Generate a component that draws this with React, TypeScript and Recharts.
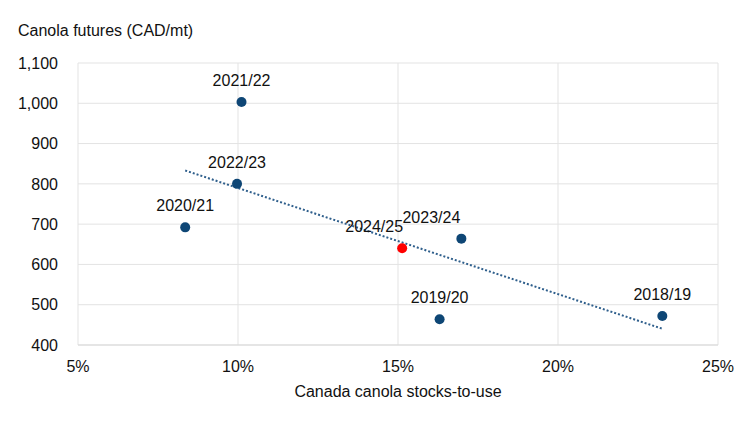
import { ScatterChart, Scatter, XAxis, YAxis, CartesianGrid, ReferenceLine } from "recharts";

const seasons = ["2018/19", "2019/20", "2020/21", "2021/22", "2022/23", "2023/24", "2024/25"];
const stocksToUse = [23.26, 16.3, 8.35, 10.11, 9.97, 16.98, 15.13];
const futures = [472, 464, 692, 1003, 800, 664, 640];
const highlightSeason = "2024/25";

const xTicks = [5, 10, 15, 20, 25];
const yTicks = [400, 500, 600, 700, 800, 900, 1000, 1100];

// a couple of labels sit to the left of their dot in the original
const labelShift: Record<string, number> = { "2024/25": -28, "2023/24": -30 };

const FONT = "'Liberation Sans', Arial, sans-serif";
const BLUE = "#0e4675";
const INK = "#111";

const points = seasons.map((name, i) => ({ name, x: stocksToUse[i], y: futures[i] }));

// least squares trendline over all seasons
function trend() {
  const n = points.length;
  const mx = points.reduce((s, p) => s + p.x, 0) / n;
  const my = points.reduce((s, p) => s + p.y, 0) / n;
  let sxy = 0;
  let sxx = 0;
  points.forEach((p) => {
    sxy += (p.x - mx) * (p.y - my);
    sxx += (p.x - mx) * (p.x - mx);
  });
  const slope = sxy / sxx;
  const x0 = Math.min(...stocksToUse);
  const x1 = Math.max(...stocksToUse);
  return [
    { x: x0, y: my + slope * (x0 - mx) },
    { x: x1, y: my + slope * (x1 - mx) },
  ];
}

function Dot(props: any) {
  const { cx, cy, payload } = props;
  const hot = payload.name === highlightSeason;
  return (
    <g>
      <circle cx={cx} cy={cy} r={5} fill={hot ? "#ff0000" : BLUE} />
      <text
        x={cx + (labelShift[payload.name] ?? 0)}
        y={cy - 16}
        textAnchor="middle"
        fontSize={16}
        fontFamily={FONT}
        fill={INK}
      >
        {payload.name}
      </text>
    </g>
  );
}

export default function App() {
  const tick = { fontSize: 16, fontFamily: FONT, fill: INK };
  return (
    <div style={{ position: "absolute", left: 0, top: 0, width: 750, height: 422, background: "#fff" }}>
      <div
        style={{
          position: "absolute",
          left: 18,
          top: 22,
          fontFamily: FONT,
          fontSize: 16,
          color: INK,
        }}
      >
        Canola futures (CAD/mt)
      </div>
      <ScatterChart width={750} height={422} margin={{ top: 63, right: 32, bottom: 47, left: 0 }}>
        <CartesianGrid stroke="#e3e3e3" />
        <XAxis
          type="number"
          dataKey="x"
          domain={[5, 25]}
          ticks={xTicks}
          tickFormatter={(v) => `${v}%`}
          tick={tick}
          tickLine={false}
          tickSize={0}
          tickMargin={16}
          axisLine={{ stroke: "#d9d9d9" }}
          height={30}
          label={{
            value: "Canada canola stocks-to-use",
            position: "insideBottom",
            offset: -22,
            style: { fontSize: 16, fontFamily: FONT, fill: INK },
          }}
        />
        <YAxis
          type="number"
          dataKey="y"
          domain={[400, 1100]}
          ticks={yTicks}
          tickFormatter={(v) => v.toLocaleString("en-US")}
          tick={tick}
          tickLine={false}
          tickSize={0}
          tickMargin={20}
          axisLine={false}
          width={78}
        />
        <ReferenceLine
          segment={trend()}
          stroke="#2f5f8c"
          strokeWidth={2}
          strokeDasharray="2 2"
          ifOverflow="visible"
        />
        <Scatter data={points} shape={<Dot />} isAnimationActive={false} />
      </ScatterChart>
    </div>
  );
}
